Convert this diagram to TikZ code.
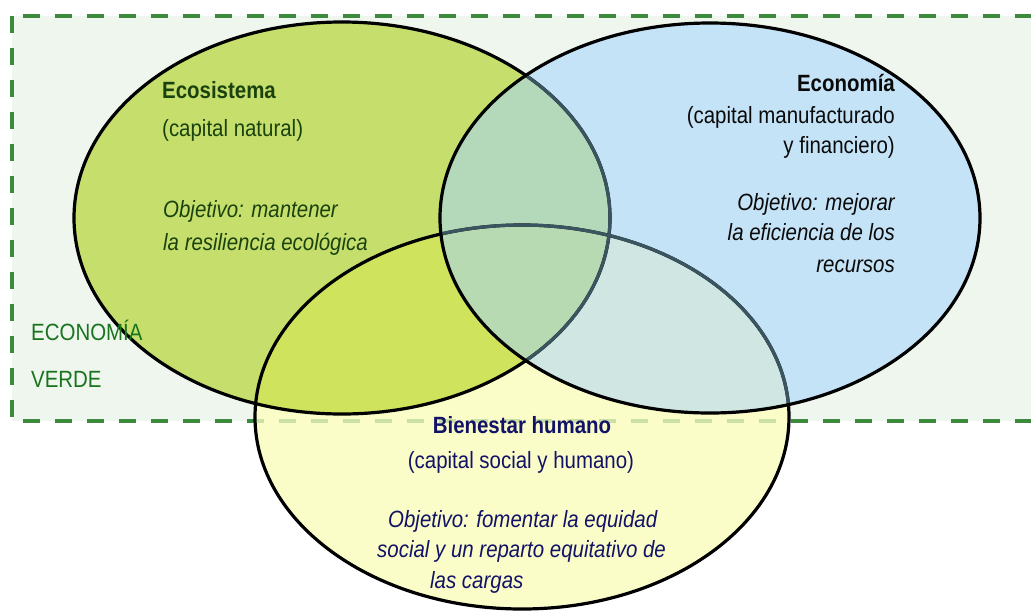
\documentclass[tikz,border=0pt]{standalone}
\usepackage{fontspec}
\setmainfont{Liberation Sans}[FakeStretch=0.87]
\usetikzlibrary{positioning}
\definecolor{bggreen}{HTML}{EEF6EE}
\definecolor{dashgreen}{HTML}{3B8A3E}
\definecolor{ecofill}{HTML}{C6DF6C}
\definecolor{econfill}{HTML}{C5E3F7}
\definecolor{humfill}{HTML}{FBFDC9}
\definecolor{ecoecon}{HTML}{B3D8BA}
\definecolor{ecohum}{HTML}{D0E35C}
\definecolor{econhum}{HTML}{CFE6E2}
\definecolor{allthree}{HTML}{B8DAB3}
\definecolor{rimgray}{HTML}{3A5560}
\definecolor{ecotext}{HTML}{1A420F}
\definecolor{econtext}{HTML}{0A0A0A}
\definecolor{humtext}{HTML}{121266}
\definecolor{verdetext}{HTML}{1A741E}
\begin{document}
\begin{tikzpicture}[x=1pt,y=-1pt,
  lbl/.style={inner sep=0pt,font=\fontsize{23.5}{28}\selectfont},
  headtxt/.style={lbl,font=\fontsize{23.5}{28}\selectfont\bfseries},
  goaltxt/.style={lbl,font=\fontsize{23.5}{28}\selectfont\itshape},
  rim/.style={line width=3.2pt},
  frame/.style={dashgreen,line width=3.5pt,dash pattern=on 17pt off 15pt},
  ecoshape/.style={insert path={(ecoc) ellipse [x radius=268, y radius=196]}},
  econshape/.style={insert path={(econc) ellipse [x radius=270, y radius=195]}},
  humshape/.style={insert path={(humc) ellipse [x radius=267, y radius=192]}}]
\useasboundingbox (0,0) rectangle (1031,614);
\coordinate (ecoc) at (342,218);
\coordinate (econc) at (710,218);
\coordinate (humc) at (522,417);
% economia verde
\fill[bggreen] (12,16) rectangle (1045,421);
\draw[frame] (12,16) rectangle (1045,421);
% circulos
\fill[ecofill,ecoshape];
\fill[econfill,econshape];
\begin{scope}
\clip[ecoshape];
\fill[ecoecon,econshape];
\end{scope}
\fill[humfill,humshape];
\begin{scope}
\clip[humshape];
\draw[frame,draw opacity=0.25] (12,16) rectangle (1045,421);
\fill[ecohum,ecoshape];
\fill[econhum,econshape];
\clip[ecoshape];
\fill[allthree,econshape];
\end{scope}
\draw[rim,ecoshape];
\draw[rim,humshape];
\begin{scope}
\clip[econshape];
\draw[rim,rimgray,ecoshape];
\draw[rim,rimgray,humshape];
\end{scope}
\draw[rim,econshape];
\node[headtxt,text=ecotext](ecohead) at (162,98) [anchor=base west] {Ecosistema};
\node[lbl,text=ecotext](ecocap) at (162,136) [anchor=base west] {(capital natural)};
\node[goaltxt,text=ecotext](ecogoal1) at (163,217) [anchor=base west] {Objetivo: mantener};
\node[goaltxt,text=ecotext](ecogoal2) at (163,250) [anchor=base west] {la resiliencia ecológica};
\node[headtxt,text=econtext](econhead) at (895,91) [anchor=base east] {Economía};
\node[lbl,text=econtext](econcap1) at (895,123) [anchor=base east] {(capital manufacturado};
\node[lbl,text=econtext](econcap2) at (895,153) [anchor=base east] {y financiero)};
\node[goaltxt,text=econtext](econgoal1) at (895,210) [anchor=base east] {Objetivo: mejorar};
\node[goaltxt,text=econtext](econgoal2) at (895,240) [anchor=base east] {la eficiencia de los};
\node[goaltxt,text=econtext](econgoal3) at (895,272) [anchor=base east] {recursos};
\node[headtxt,text=humtext](humhead) at (522,433) [anchor=base] {Bienestar humano};
\node[lbl,text=humtext](humcap) at (521,468) [anchor=base] {(capital social y humano)};
\node[goaltxt,text=humtext](humgoal1) at (388,527) [anchor=base west] {Objetivo: fomentar la equidad};
\node[goaltxt,text=humtext](humgoal2) at (377,557) [anchor=base west] {social y un reparto equitativo de};
\node[goaltxt,text=humtext](humgoal3) at (430,588) [anchor=base west] {las cargas};
\node[lbl,text=verdetext](verde1) at (31,340) [anchor=base west] {ECONOMÍA};
\node[lbl,text=verdetext](verde2) at (31,387) [anchor=base west] {VERDE};
\end{tikzpicture}
\end{document}
